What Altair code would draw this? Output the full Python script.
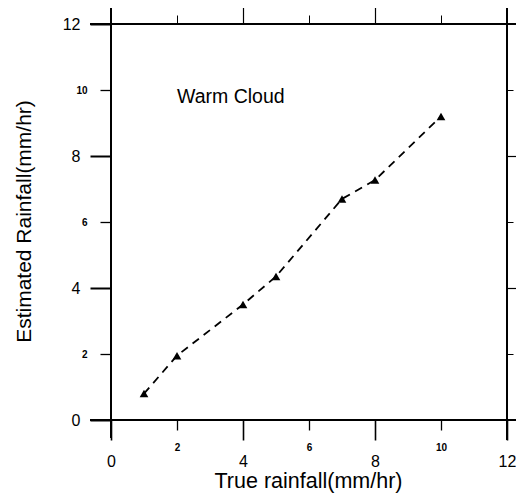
import altair as alt
import pandas as pd

# ---- data ----
true_rain = [1, 2, 4, 5, 7, 8, 10]
est_rain = [0.8, 1.95, 3.5, 4.35, 6.7, 7.27, 9.2]
major_ticks = [0, 4, 8, 12]
minor_ticks = [2, 6, 10]
top_major = [4, 8]
annot_text = ["Warm Cloud"]
annot_x = [2.0]
annot_y = [9.8]

df = pd.DataFrame({"x": true_rain, "y": est_rain})
lab = pd.DataFrame({"x": annot_x, "y": annot_y, "t": annot_text})

FONT = "Liberation Sans"
W = H = 396


def sc():
    return alt.Scale(domain=[0, 12], nice=False, zero=False)


def ax(orient, values, tick, labels=True, font=16, pad=10, width=1.5, **kw):
    opts = dict(orient=orient, values=values, tickSize=tick, tickColor="black",
                tickWidth=width, domain=False, grid=False, labels=labels,
                labelFont=FONT, labelColor="black", labelFontSize=font,
                labelPadding=pad, labelFlush=False, labelOverlap=False)
    opts.update(kw)
    if "title" not in opts:
        opts["title"] = None
    return alt.Axis(**opts)


xmaj = ax("bottom", major_ticks, 20, font=16, pad=13, width=1.6,
          title="True rainfall(mm/hr)", titleFont=FONT, titleFontSize=21.5,
          titleFontWeight="normal", titleColor="black", titleX=197, titleY=67,
          titleBaseline="alphabetic", titleAlign="center")
ymaj = ax("left", major_ticks, 21, font=16, pad=10, width=2,
          title="Estimated Rainfall(mm/hr)", titleFont=FONT, titleFontSize=21,
          titleFontWeight="normal", titleColor="black", titleX=-77, titleY=197,
          titleBaseline="bottom", titleAlign="center", titleAngle=270)
xmin = ax("bottom", minor_ticks, 10, font=10, pad=12, width=1.3, labelFontWeight="bold")
ymin = ax("left", minor_ticks, 11, font=10, pad=13, width=1.3, labelFontWeight="bold")
xtop = ax("top", top_major, 17, labels=False, width=1.2)
yright = ax("right", [4, 8], 16, labels=False, width=1.2)
xtop2 = ax("top", minor_ticks, 9, labels=False, width=1.0)
yright2 = ax("right", minor_ticks, 6, labels=False, width=1.0)

line = alt.Chart(df).mark_line(color="black", strokeDash=[8, 6], strokeWidth=1.8).encode(
    x=alt.X("x:Q", scale=sc(), axis=xmaj),
    y=alt.Y("y:Q", scale=sc(), axis=ymaj),
)

pts = alt.Chart(df).mark_point(shape="triangle-up", filled=True, color="black",
                               size=75, opacity=1).encode(
    x=alt.X("x:Q", scale=sc(), axis=xmin),
    y=alt.Y("y:Q", scale=sc(), axis=ymin),
)

txt = alt.Chart(lab).mark_text(align="left", baseline="middle", font=FONT,
                               fontSize=19.5, color="black").encode(
    x=alt.X("x:Q", scale=sc(), axis=xtop),
    y=alt.Y("y:Q", scale=sc(), axis=yright),
    text="t:N",
)

ghost = alt.Chart(df).mark_point(opacity=0).encode(
    x=alt.X("x:Q", scale=sc(), axis=xtop2),
    y=alt.Y("y:Q", scale=sc(), axis=yright2),
)

# frame lines that run past the plot corners, as in the scanned figure
left_line = alt.Chart(df).mark_rule(color="black", strokeWidth=2).encode(
    x=alt.value(0), y=alt.value(-20), y2=alt.value(414))
bottom_line = alt.Chart(df).mark_rule(color="black", strokeWidth=1.6).encode(
    y=alt.value(H), x=alt.value(-21), x2=alt.value(420))
top_line = alt.Chart(df).mark_rule(color="black", strokeWidth=1.1).encode(
    y=alt.value(0), x=alt.value(-21), x2=alt.value(420))
right_line = alt.Chart(df).mark_rule(color="black", strokeWidth=1.1).encode(
    x=alt.value(W), y=alt.value(-17), y2=alt.value(416))

chart = alt.layer(
    line, pts, txt, ghost, left_line, bottom_line, top_line, right_line
).resolve_axis(
    x="independent", y="independent"
).properties(
    width=W, height=H,
    autosize=alt.AutoSizeParams(type="none"),
    padding={"left": 103, "top": 16, "right": 9, "bottom": 76},
    background="white",
).configure_view(stroke=None)

chart.save("out.html", embed_options={"renderer": "svg", "actions": False})
